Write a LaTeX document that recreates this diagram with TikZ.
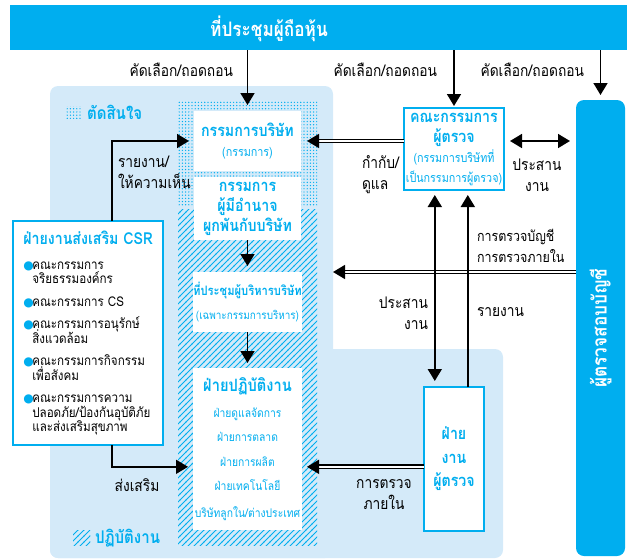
\documentclass[tikz,border=0pt]{standalone}
\usepackage{fontspec}
\setmainfont[Script=Thai,FakeStretch=0.86]{Loma}
\newfontfamily\symfont{DejaVu Sans}
\usepackage{tikz}
\usetikzlibrary{calc}
\usetikzlibrary{positioning}
\usetikzlibrary{arrows.meta}
\usetikzlibrary{patterns}

\definecolor{tcyan}{RGB}{0,174,239}
\definecolor{tpale}{RGB}{212,234,249}

\pgfdeclarepatternformonly{tdots}{\pgfqpoint{-1pt}{-1pt}}{\pgfqpoint{1pt}{1pt}}{\pgfqpoint{3.2pt}{3.2pt}}%
{\pgfpathcircle{\pgfqpoint{0pt}{0pt}}{0.7pt}\pgfusepath{fill}}
\pgfdeclarepatternformonly{thatch}{\pgfqpoint{-1pt}{-1pt}}{\pgfqpoint{7pt}{7pt}}{\pgfqpoint{6pt}{6pt}}%
{\pgfsetlinewidth{0.8pt}\pgfpathmoveto{\pgfqpoint{-0.5pt}{-0.5pt}}\pgfpathlineto{\pgfqpoint{6.5pt}{6.5pt}}\pgfusepath{stroke}}

\lineskiplimit=-30pt
\newcommand\headfont{\fontsize{16.5}{20}\selectfont\bfseries}
\newcommand\zonefont{\fontsize{17.5}{20}\selectfont\bfseries}
\newcommand\subfont{\fontsize{12.5}{18}\selectfont\mdseries}
\newcommand\csrfont{\fontsize{13.5}{14.5}\selectfont}
\newcommand\csrdot{\makebox[9pt][l]{\symfont\color{tcyan}\fontsize{12}{12}\selectfont ●}}
\newcommand\csrgap{\hspace*{9pt}}

\tikzset{
  every node/.style={inner sep=0pt,outer sep=0pt},
  zone/.style={fill=tpale,rounded corners=8pt},
  whitebox/.style={fill=white,text=tcyan,align=center,font=\headfont},
  cyanbox/.style={draw=tcyan,line width=2.5pt,fill=white,text=tcyan,align=center,font=\headfont},
  lbl/.style={font=\fontsize{16}{21}\selectfont,align=center},
  flow/.style={-{Triangle[length=12pt,width=14pt]},line width=1.6pt},
  twoway/.style={{Triangle[length=12pt,width=14pt]}-{Triangle[length=12pt,width=14pt]},line width=1.6pt},
  dbl/.style={-{Triangle[length=12pt,width=14pt]},double,double distance=2pt,line width=1.4pt}
}

\begin{document}
\begin{tikzpicture}[x=1pt,y=-1pt]
\useasboundingbox (0,0) rectangle (627,560);

\node[zone,minimum width=283pt,minimum height=472pt] (decidezone) at (191.5,322) {};
\node[zone,minimum width=453pt,minimum height=209pt] (operatezone) at (276.5,453.5) {};

\node[pattern=tdots,pattern color=tcyan,minimum width=139pt,minimum height=105pt] (dotband) at (247.5,152.5) {};
\node[pattern=thatch,pattern color=tcyan,minimum width=139pt,minimum height=336pt] (hatchband) at (247.5,377) {};

\node[pattern=tdots,pattern color=tcyan,minimum width=17pt,minimum height=12pt] (decideicon) at (73.5,112) {};
\node[right=5pt of decideicon,text=tcyan,font=\zonefont] (decidename) {ตัดสินใจ};
\node[pattern=thatch,pattern color=tcyan,minimum width=17pt,minimum height=15pt] (operateicon) at (81.5,538) {};
\node[right=5pt of operateicon,text=tcyan,font=\zonefont] (operatename) {ปฏิบัติงาน};

\node[fill=tcyan,minimum width=617pt,minimum height=45pt] (shbar) at (318.5,27.5) {};
\node[text=white,font=\fontsize{20}{24}\selectfont\bfseries] (shtitle) at (269,29) {ที่ประชุมผู้ถือหุ้น};

\node[whitebox,minimum width=107pt,minimum height=60pt] (board) at (247.5,141)
  {กรรมการบริษัท\\{\subfont (กรรมการ)}};
\node[whitebox,minimum width=107pt,minimum height=63pt] (authdir) at (247.5,208.5)
  {กรรมการ\\ผู้มีอำนาจ\\ผูกพันกับบริษัท};
\node[whitebox,minimum width=109pt,minimum height=60pt] (mgmt) at (247.5,302)
  {{\fontsize{13}{19}\selectfont\bfseries ที่ประชุมผู้บริหารบริษัท}\\[4pt]{\fontsize{11.5}{18}\selectfont\mdseries (เฉพาะกรรมการบริหาร)}};
\node[whitebox,minimum width=109pt,minimum height=162pt,font=\fontsize{12}{24.5}\selectfont] (ops) at (247.5,449)
  {{\fontsize{17}{20}\selectfont\bfseries ฝ่ายปฏิบัติงาน}\\[1pt]ฝ่ายดูแลจัดการ\\ฝ่ายการตลาด\\ฝ่ายการผลิต\\ฝ่ายเทคโนโลยี\\[2pt]บริษัทลูกใน/ต่างประเทศ};

\node[cyanbox,minimum width=100pt,minimum height=82pt] (auditcom) at (454,149)
  {คณะกรรมการ\\ผู้ตรวจ\\{\subfont (กรรมการบริษัทที่}\\{\subfont เป็นกรรมการผู้ตรวจ)}};
\node[cyanbox,minimum width=60pt,minimum height=144pt] (intaudit) at (454,459)
  {ฝ่าย\\[3.5pt]งาน\\[3.5pt]ผู้ตรวจ};

\node[zone,fill=tcyan,minimum width=49pt,minimum height=456pt] (auditor) at (600.5,328) {};
\node[rotate=90,text=white,font=\fontsize{20}{24}\selectfont\bfseries] (auditorname) at (auditor.center) {ผู้ตรวจสอบบัญชี};

\node[cyanbox,minimum width=150pt,minimum height=224pt,align=left,text=black,font=\csrfont] (csr) at (88,333)
  {{\color{tcyan}\fontsize{16.5}{18}\selectfont\bfseries ฝ่ายงานส่งเสริม CSR}\\[10pt]
   \csrdot คณะกรรมการ\\
   \csrgap จริยธรรมองค์กร\\[8pt]
   \csrdot คณะกรรมการ CS\\[8pt]
   \csrdot คณะกรรมการอนุรักษ์\\
   \csrgap สิ่งแวดล้อม\\[8pt]
   \csrdot คณะกรรมการกิจกรรม\\
   \csrgap เพื่อสังคม\\[8pt]
   \csrdot คณะกรรมการความ\\
   \csrgap ปลอดภัย/ป้องกันอุบัติภัย\\
   \csrgap และส่งเสริมสุขภาพ};

\coordinate (csrup) at ($(csr.north west)!0.66!(csr.north east)$);
\coordinate (csrdown) at ($(csr.south west)!0.66!(csr.south east)$);
\coordinate (opsin) at ($(ops.north west)!0.61!(ops.south west)$);
\coordinate (coordleft) at ($(intaudit.north west)!0.18!(intaudit.north east)$);
\coordinate (reportright) at ($(intaudit.north west)!0.73!(intaudit.north east)$);

\draw[flow,shorten >=6pt] (shbar.south -| board.north) -- (board.north);
\draw[flow,shorten >=2pt] (shbar.south -| auditcom.north) -- (auditcom.north);
\draw[flow,shorten >=5pt] (shbar.south -| auditor.north) -- (auditor.north);
\node[lbl,anchor=east] (select1) at (233,70) {คัดเลือก/ถอดถอน};
\node[lbl,anchor=east] (select2) at (437,70) {คัดเลือก/ถอดถอน};
\node[lbl,anchor=east] (select3) at (584,70) {คัดเลือก/ถอดถอน};

\draw[flow,shorten >=6pt] (authdir) -- (mgmt);
\draw[flow,shorten >=5pt] (mgmt) -- (ops);

\draw[flow,shorten >=5pt] (csrup) |- (board.west);
\node[lbl,align=left,anchor=west] (advise) at (118,172) {รายงาน/\\ให้ความเห็น};
\draw[flow,shorten >=5pt] (csrdown) |- (opsin);
\node[lbl] (promote) at (137,485) {ส่งเสริม};

\draw[dbl,shorten >=6pt] (auditcom.west |- board.east) -- (board.east);
\node[lbl,align=left,anchor=west] (supervise) at (362,175) {กำกับ/\\ดูแล};
\draw[twoway,shorten <=6pt,shorten >=6pt] (auditcom.east |- board.east) -- (auditor.west |- board.east);
\node[lbl] (coordtop) at (537,175) {ประสาน\\งาน};

\draw[dbl] (auditor.west |- mgmt.north) -- (decidezone.east |- mgmt.north);
\node[lbl,align=left,anchor=west,font=\fontsize{14.5}{21}\selectfont] (auditwork) at (477,246) {การตรวจบัญชี\\การตรวจภายใน};

\draw[twoway,shorten <=6pt,shorten >=5pt] (coordleft) -- (coordleft |- auditcom.south);
\node[lbl,align=right,anchor=east] (coordmid) at (428,313) {ประสาน\\งาน};
\draw[flow,shorten >=5pt] (reportright) -- (reportright |- auditcom.south);
\node[lbl,anchor=west] (report) at (477,312) {รายงาน};

\draw[dbl,shorten >=5pt] (intaudit.west |- opsin) -- (ops.east |- opsin);
\node[lbl] (inspect) at (384,495) {การตรวจ\\ภายใน};
\end{tikzpicture}
\end{document}
